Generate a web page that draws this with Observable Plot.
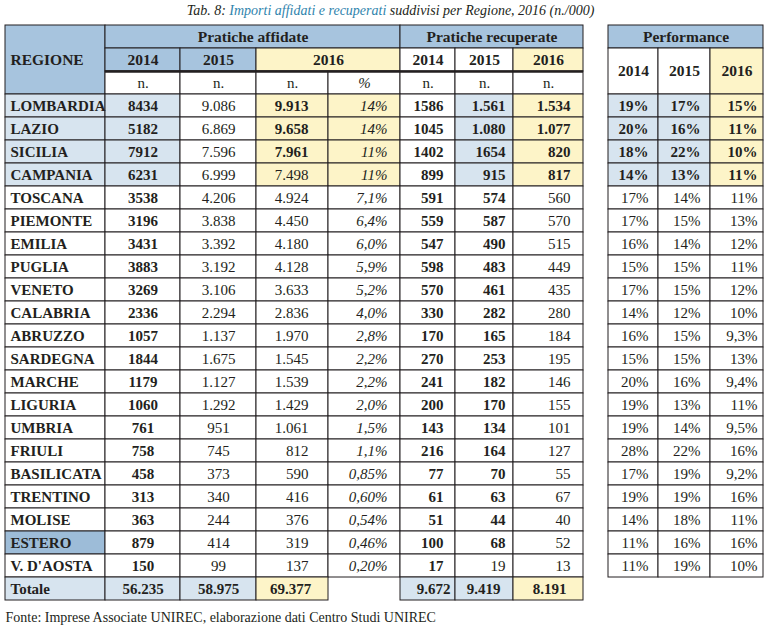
<!DOCTYPE html>
<html>
<head>
<meta charset="utf-8">
<script src="https://cdn.jsdelivr.net/npm/d3@7"></script>
<script src="https://cdn.jsdelivr.net/npm/@observablehq/plot@0.6"></script>
<style>
  html, body { margin: 0; padding: 0; background: #ffffff; }
</style>
</head>
<body>
<div id="chart"></div>
<script>
// ---------------- DATA ----------------
const title = "Tab. 8: Importi affidati e recuperati suddivisi per Regione, 2016 (n./000)";
const titleHighlight = "Importi affidati e recuperati";
const source = "Fonte: Imprese Associate UNIREC, elaborazione dati Centro Studi UNIREC";

const groups = ["Pratiche affidate", "Pratiche recuperate", "Performance"];
const years = ["2014", "2015", "2016"];
const regionHeader = "REGIONE";
const unitN = "n.";
const unitPct = "%";

const regions = ["LOMBARDIA","LAZIO","SICILIA","CAMPANIA","TOSCANA","PIEMONTE","EMILIA","PUGLIA","VENETO","CALABRIA","ABRUZZO","SARDEGNA","MARCHE","LIGURIA","UMBRIA","FRIULI","BASILICATA","TRENTINO","MOLISE","ESTERO","V. D'AOSTA"];
const aff2014 = ["8434","5182","7912","6231","3538","3196","3431","3883","3269","2336","1057","1844","1179","1060","761","758","458","313","363","879","150"];
const aff2015 = ["9.086","6.869","7.596","6.999","4.206","3.838","3.392","3.192","3.106","2.294","1.137","1.675","1.127","1.292","951","745","373","340","244","414","99"];
const aff2016 = ["9.913","9.658","7.961","7.498","4.924","4.450","4.180","4.128","3.633","2.836","1.970","1.545","1.539","1.429","1.061","812","590","416","376","319","137"];
const pct2016 = ["14%","14%","11%","11%","7,1%","6,4%","6,0%","5,9%","5,2%","4,0%","2,8%","2,2%","2,2%","2,0%","1,5%","1,1%","0,85%","0,60%","0,54%","0,46%","0,20%"];
const rec2014 = ["1586","1045","1402","899","591","559","547","598","570","330","170","270","241","200","143","216","77","61","51","100","17"];
const rec2015 = ["1.561","1.080","1654","915","574","587","490","483","461","282","165","253","182","170","134","164","70","63","44","68","19"];
const rec2016 = ["1.534","1.077","820","817","560","570","515","449","435","280","184","195","146","155","101","127","55","67","40","52","13"];
const perf2014 = ["19%","20%","18%","14%","17%","17%","16%","15%","17%","14%","16%","15%","20%","19%","19%","28%","17%","19%","14%","11%","11%"];
const perf2015 = ["17%","16%","22%","13%","14%","15%","14%","15%","15%","12%","15%","15%","16%","13%","14%","22%","19%","19%","18%","16%","19%"];
const perf2016 = ["15%","11%","10%","11%","11%","13%","12%","11%","12%","10%","9,3%","13%","9,4%","11%","9,5%","16%","9,2%","16%","11%","16%","10%"];

const totalLabel = "Totale";
const totAff = ["56.235","58.975","69.377"];
const totRec = ["9.672","9.419","8.191"];

// ---------------- LAYOUT / STYLE ----------------
const W = 782, H = 628;
const INK = "#231f20";
const BLUE = "#a7c4de", LIGHT = "#d7e4ef", EST = "#9dbcd8", YEL = "#fdf4c8", WHITE = "#ffffff";
const TEAL = "#2f84ad";
const FONT = "Liberation Serif";
const FS = 15;
const FSH = 15.5;

const edges = {
  reg: [5, 105], a14: [105, 180], a15: [180, 256], a16: [256, 328], ap: [328, 400],
  r14: [400, 455], r15: [455, 513], r16: [513, 583],
  p14: [608, 658], p15: [658, 710], p16: [710, 763]
};
const mid = (a, b) => (edges[a][0] + edges[b][1]) / 2;

const cells = [];
function cell(c1, c2, r1, r2, fill) {
  cells.push({x1: edges[c1][0], x2: edges[c2][1], r1, r2, fill});
}
const texts = [];
function txt(x, r, text, style, anchor, size = FS) { texts.push({x, r, text, style, anchor, size}); }

// header cells
cell("reg", "reg", 0, 3, BLUE);
cell("a14", "ap", 0, 1, BLUE);
cell("a14", "a14", 1, 2, BLUE);
cell("a15", "a15", 1, 2, BLUE);
cell("a16", "ap", 1, 2, YEL);
for (const c of ["a14", "a15", "a16", "ap", "r14", "r15", "r16"]) cell(c, c, 2, 3, WHITE);
cell("r14", "r16", 0, 1, BLUE);
cell("r14", "r14", 1, 2, WHITE);
cell("r15", "r15", 1, 2, WHITE);
cell("r16", "r16", 1, 2, YEL);
cell("p14", "p16", 0, 1, BLUE);
cell("p14", "p14", 1, 3, WHITE);
cell("p15", "p15", 1, 3, WHITE);
cell("p16", "p16", 1, 3, YEL);

// header texts
txt(10, 1.5, regionHeader, "b", "start", FSH);
txt(mid("a14", "ap"), 0.5, groups[0], "b", "middle", FSH);
txt(mid("r14", "r16"), 0.5, groups[1], "b", "middle", FSH);
txt(mid("p14", "p16"), 0.5, groups[2], "b", "middle", FSH);
txt(mid("a14", "a14"), 1.5, years[0], "b", "middle", FSH);
txt(mid("a15", "a15"), 1.5, years[1], "b", "middle", FSH);
txt(mid("a16", "ap"), 1.5, years[2], "b", "middle", FSH);
txt(mid("r14", "r14"), 1.5, years[0], "b", "middle", FSH);
txt(mid("r15", "r15"), 1.5, years[1], "b", "middle", FSH);
txt(mid("r16", "r16"), 1.5, years[2], "b", "middle", FSH);
txt(mid("p14", "p14"), 2, years[0], "b", "middle", FSH);
txt(mid("p15", "p15"), 2, years[1], "b", "middle", FSH);
txt(mid("p16", "p16"), 2, years[2], "b", "middle", FSH);
for (const c of ["a14", "a15", "a16", "r14", "r15", "r16"]) txt(mid(c, c), 2.5, unitN, "r", "middle");
txt(mid("ap", "ap"), 2.5, unitPct, "i", "middle");

// data rows
regions.forEach((name, i) => {
  const r = 3 + i, top = i < 4;
  cell("reg", "reg", r, r + 1, top ? LIGHT : (name === "ESTERO" ? EST : WHITE));
  cell("a14", "a14", r, r + 1, top ? LIGHT : WHITE);
  cell("a15", "a15", r, r + 1, WHITE);
  cell("a16", "a16", r, r + 1, top ? YEL : WHITE);
  cell("ap", "ap", r, r + 1, top ? YEL : WHITE);
  cell("r14", "r14", r, r + 1, WHITE);
  cell("r15", "r15", r, r + 1, top ? LIGHT : WHITE);
  cell("r16", "r16", r, r + 1, top ? YEL : WHITE);
  cell("p14", "p14", r, r + 1, top ? LIGHT : WHITE);
  cell("p15", "p15", r, r + 1, top ? LIGHT : WHITE);
  cell("p16", "p16", r, r + 1, top ? YEL : WHITE);
  const c = r + 0.5;
  txt(10, c, name, "b", "start");
  txt(mid("a14", "a14"), c, aff2014[i], "b", "middle");
  txt(mid("a15", "a15"), c, aff2015[i], "r", "middle");
  txt(308, c, aff2016[i], i < 3 ? "b" : "r", "end");
  txt(387, c, pct2016[i], "i", "end");
  txt(443, c, rec2014[i], "b", "end");
  txt(505, c, rec2015[i], i === regions.length - 1 ? "r" : "b", "end");
  txt(570, c, rec2016[i], top ? "b" : "r", "end");
  txt(648, c, perf2014[i], top ? "b" : "r", "end");
  txt(700, c, perf2015[i], top ? "b" : "r", "end");
  txt(757, c, perf2016[i], top ? "b" : "r", "end");
});

// totals row
const rt = 3 + regions.length;
cell("reg", "reg", rt, rt + 1, LIGHT);
cell("a14", "a14", rt, rt + 1, LIGHT);
cell("a15", "a15", rt, rt + 1, LIGHT);
cell("a16", "a16", rt, rt + 1, YEL);
cell("r14", "r14", rt, rt + 1, LIGHT);
cell("r15", "r15", rt, rt + 1, LIGHT);
cell("r16", "r16", rt, rt + 1, YEL);
txt(10, rt + 0.5, totalLabel, "b", "start");
txt(mid("a14", "a14"), rt + 0.5, totAff[0], "b", "middle");
txt(mid("a15", "a15"), rt + 0.5, totAff[1], "b", "middle");
txt(290, rt + 0.5, totAff[2], "b", "middle");
txt(450, rt + 0.5, totRec[0], "b", "end");
txt(500, rt + 0.5, totRec[1], "b", "end");
txt(566, rt + 0.5, totRec[2], "b", "end");

// text marks grouped by style / anchor / size
const styleMap = {
  b: {fontWeight: "bold", fontStyle: "normal"},
  r: {fontWeight: "normal", fontStyle: "normal"},
  i: {fontWeight: "normal", fontStyle: "italic"}
};
const textMarks = [];
for (const s of Object.keys(styleMap)) {
  for (const a of ["start", "middle", "end"]) {
    for (const z of [FS, FSH]) {
      const sub = texts.filter(d => d.style === s && d.anchor === a && d.size === z);
      if (!sub.length) continue;
      textMarks.push(Plot.text(sub, {
        x: "x", y: "r", text: "text", textAnchor: a, lineAnchor: "middle",
        fill: INK, fontSize: z, fontFamily: FONT, ...styleMap[s]
      }));
    }
  }
}

const chart = Plot.plot({
  width: W, height: H,
  margin: 0, marginTop: 0, marginRight: 0, marginBottom: 0, marginLeft: 0,
  x: {type: "linear", domain: [0, W], range: [0, W], axis: null},
  y: {type: "linear", domain: [0, 25], range: [25, 600], axis: null},
  color: {type: "identity"},
  style: {fontFamily: FONT, background: "#ffffff", color: INK},
  marks: [
    Plot.rect(cells, {x1: "x1", x2: "x2", y1: "r1", y2: "r2", fill: "fill", stroke: INK, strokeWidth: 1}),
    Plot.ruleY([2], {x1: edges.a14[0], x2: edges.r16[1], stroke: INK, strokeWidth: 2.5}),
    ...textMarks,
    Plot.text([title], {x: 390, y: -0.66, text: d => d, textAnchor: "middle", lineAnchor: "middle",
      fontStyle: "italic", fontSize: 14, fontFamily: FONT, fill: INK}),
    Plot.text([source], {x: 5, y: 25.75, text: d => d, textAnchor: "start", lineAnchor: "middle",
      fontSize: 14, fontFamily: FONT, fill: INK})
  ]
});

// colour the highlighted part of the title
for (const el of chart.querySelectorAll("text")) {
  if (el.textContent === title) {
    const k = title.indexOf(titleHighlight);
    const parts = [[title.slice(0, k), INK], [titleHighlight, TEAL], [title.slice(k + titleHighlight.length), INK]];
    el.textContent = "";
    for (const [t, col] of parts) {
      const ts = document.createElementNS("http://www.w3.org/2000/svg", "tspan");
      ts.setAttribute("fill", col);
      ts.textContent = t;
      el.appendChild(ts);
    }
  }
}
document.getElementById("chart").appendChild(chart);
</script>
</body>
</html>
